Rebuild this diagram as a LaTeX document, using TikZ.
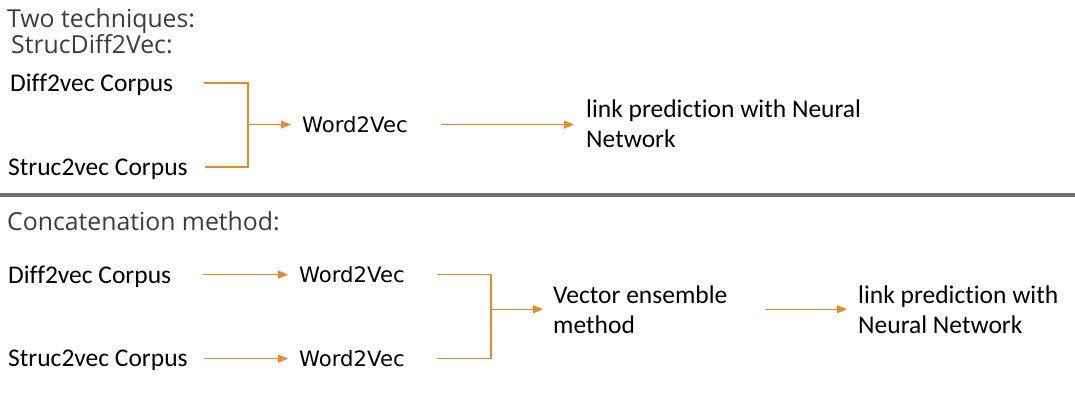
\documentclass[tikz,border=0pt]{standalone}
\usepackage{fontspec}
\setmainfont{Carlito}[Ligatures=NoCommon]
\newfontfamily\headfont{Open Sans}
\newfontfamily\wvfont{DejaVu Sans}
\usetikzlibrary{arrows.meta}
\definecolor{headgray}{HTML}{3C3C3C}
\definecolor{arrowor}{HTML}{E8892A}
\definecolor{sepgray}{HTML}{6E6E6E}
\tikzset{
  head/.style={anchor=base west, inner sep=0pt, text=headgray, font=\headfont\fontsize{24.8}{30}\selectfont},
  txt/.style={anchor=base west, inner sep=0pt, text=black, font=\fontsize{25.5}{30}\selectfont, align=left},
  wv/.style={anchor=base west, inner sep=0pt, text=black, font=\wvfont\fontsize{21.2}{25}\selectfont},
  conn/.style={draw=arrowor, line width=1.4pt},
  arr/.style={conn, -{Triangle[length=10pt,width=8pt]}},
}
\begin{document}
\begin{tikzpicture}[x=1pt,y=-1pt]
\useasboundingbox (0,0) rectangle (1075,413);
% headings
\node[head] (h1) at (7,27) {Two techniques:};
\node[head] (h2) at (11,53) {StrucDiff2Vec:};
\node[head] (h3) at (7,230) {Concatenation method:};
% separator
\coordinate (sepL) at (0,194.5);
\coordinate (sepR) at (1075,194.5);
\draw[sepgray, line width=4pt] (sepL) -- (sepR);
% top section
\node[txt] (d1) at (10,91.5) {Diff2vec Corpus};
\node[txt] (s1) at (8,175) {Struc2vec Corpus};
\node[wv] (w1) at (302,132.5) {Word2Vec};
\node[txt] (lp1) at (586,147) {link prediction with Neural\\Network};
\coordinate (t1a) at (204,83);
\coordinate (t1b) at (205,167);
\coordinate (j1) at (248,125);
\draw[conn] (t1a) -| (j1) |- (t1b);
\draw[arr, shorten >=11pt] (j1 |- w1.west) -- (w1.west);
\draw[arr, shorten <=33pt, shorten >=12pt] (w1.east) -- (w1.east -| lp1.west);
% bottom section
\node[txt] (d2) at (8,283) {Diff2vec Corpus};
\node[txt] (s2) at (8,366) {Struc2vec Corpus};
\node[wv] (w2) at (299,282.5) {Word2Vec};
\node[wv] (w3) at (299,366.5) {Word2Vec};
\node[txt] (ve) at (553,333) {Vector ensemble\\method};
\node[txt] (lp2) at (858,333) {link prediction with\\Neural Network};
\draw[arr, shorten <=32pt, shorten >=11pt] (w2.west -| d2.east) -- (w2.west);
\draw[arr, shorten <=16pt, shorten >=11pt] (w3.west -| s2.east) -- (w3.west);
\coordinate (j2) at (491,312);
\draw[conn] ([xshift=32pt]w2.east) -| (j2) |- ([xshift=32pt]w3.east);
\draw[arr, shorten >=10pt] (j2 |- ve.west) -- (ve.west);
\draw[arr, shorten <=37pt, shorten >=11pt] (ve.east) -- (ve.east -| lp2.west);
\end{tikzpicture}
\end{document}
